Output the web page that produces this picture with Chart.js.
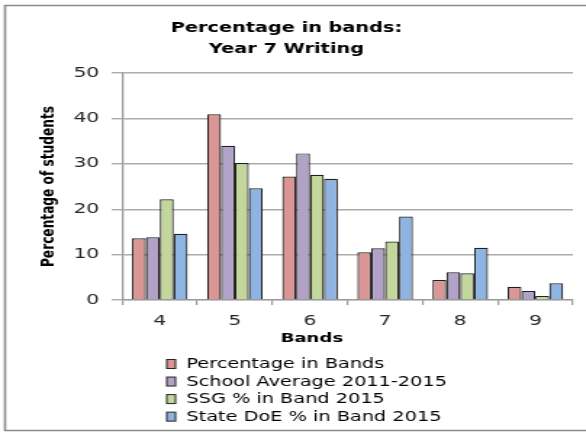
<!DOCTYPE html>
<html>
<head>
<meta charset="utf-8">
<script src="https://cdn.jsdelivr.net/npm/chart.js@4.4.1/dist/chart.umd.min.js"></script>
<style>
  html, body { margin: 0; padding: 0; background: #fff; overflow: hidden; }
  /* the chart is laid out narrow and then stretched sideways */
  #wrap { width: 410px; height: 432px; transform: scaleX(1.4505); transform-origin: 0 0; }
  #chart { display: block; background: #fff; }
</style>
</head>
<body>
<div id="wrap"><canvas id="chart" width="410" height="432"></canvas></div>
<script>
const bands = ['4', '5', '6', '7', '8', '9'];
const seriesNames = [
    'Percentage in Bands',
    'School Average 2011-2015',
    'SSG % in Band 2015',
    'State DoE % in Band 2015'
];
const pctInBands  = [13.6, 40.9, 27.2, 10.5, 4.4, 2.9];
const schoolAvg   = [13.8, 34.0, 32.3, 11.4, 6.1, 2.0];
const ssgBand     = [22.2, 30.2, 27.6, 12.9, 5.9, 0.9];
const stateDoE    = [14.6, 24.6, 26.7, 18.4, 11.5, 3.7];
const yTicks = [0, 10, 20, 30, 40, 50];

const colores = ['#D99694', '#B3A2C7', '#C3D69B', '#8EB4E3'];
const valores = [pctInBands, schoolAvg, ssgBand, stateDoE];

// marco, titulo del eje X y leyenda vertical
const extras = {
    id: 'extras',
    afterDraw(chart) {
        const ctx = chart.ctx;
        const w = chart.width;
        ctx.save();
        ctx.strokeStyle = '#8a8a8a';
        ctx.lineWidth = 1.6;
        ctx.beginPath();
        ctx.moveTo(w, 5.5);
        ctx.lineTo(3.5, 5.5);
        ctx.lineTo(3.5, 430.5);
        ctx.lineTo(w, 430.5);
        ctx.stroke();

        ctx.fillStyle = '#000';
        ctx.textAlign = 'center';
        ctx.textBaseline = 'middle';
        ctx.font = 'bold 12.5px "DejaVu Sans"';
        ctx.fillText('Bands', 215, 338.5);

        ctx.textAlign = 'left';
        ctx.font = '13.3px "DejaVu Sans"';
        chart.data.datasets.forEach((ds, i) => {
            const y = 364 + i * 17.55;
            ctx.fillStyle = ds.backgroundColor;
            ctx.fillRect(115, y - 4.5, 6, 9);
            ctx.strokeStyle = '#222';
            ctx.lineWidth = 1;
            ctx.strokeRect(115, y - 4.5, 6, 9);
            ctx.fillStyle = '#000';
            ctx.fillText(ds.label, 128.5, y + 0.5);
        });
        ctx.restore();
    }
};

const ctx = document.getElementById('chart').getContext('2d');
new Chart(ctx, {
    type: 'bar',
    data: {
        labels: bands,
        datasets: seriesNames.map((nombre, i) => ({
            label: nombre,
            data: valores[i],
            backgroundColor: colores[i],
            borderColor: '#222',
            borderWidth: 1.2,
            categoryPercentage: 0.74,
            barPercentage: 1.0
        }))
    },
    options: {
        responsive: false,
        devicePixelRatio: 1,
        animation: false,
        layout: { padding: { left: 0, right: 15, top: 12, bottom: 0 } },
        plugins: {
            legend: { display: false },
            tooltip: { enabled: false },
            title: {
                display: true,
                text: ['Percentage in bands:', 'Year 7 Writing'],
                color: '#000',
                font: { family: 'DejaVu Sans', size: 13.3, weight: 'bold', lineHeight: 1.6 },
                padding: { top: 6, bottom: 12.5 }
            }
        },
        scales: {
            x: {
                grid: { drawOnChartArea: false, color: '#9a9a9a', tickLength: 5, lineWidth: 1.2 },
                border: { color: '#9a9a9a', width: 1.3 },
                ticks: { color: '#262626', font: { family: 'DejaVu Sans', size: 14 }, padding: 7.5 },
                afterFit(scale) { scale.height = 132; }
            },
            y: {
                min: 0,
                max: 50,
                afterBuildTicks(scale) { scale.ticks = yTicks.map(v => ({ value: v })); },
                grid: { color: '#ababab', lineWidth: 1.4, tickLength: 7.3 },
                border: { color: '#9a9a9a', width: 1.3 },
                ticks: { color: '#262626', font: { family: 'DejaVu Sans', size: 14 }, padding: 8.5 },
                title: {
                    display: true,
                    text: 'Percentage of students',
                    color: '#000',
                    font: { family: 'DejaVu Sans', size: 12.2, weight: 'bold', lineHeight: 1.2 },
                    padding: { top: 26.5, bottom: 0 }
                },
                afterFit(scale) { scale.width = 84.3; }
            }
        }
    },
    plugins: [extras]
});
</script>
</body>
</html>
